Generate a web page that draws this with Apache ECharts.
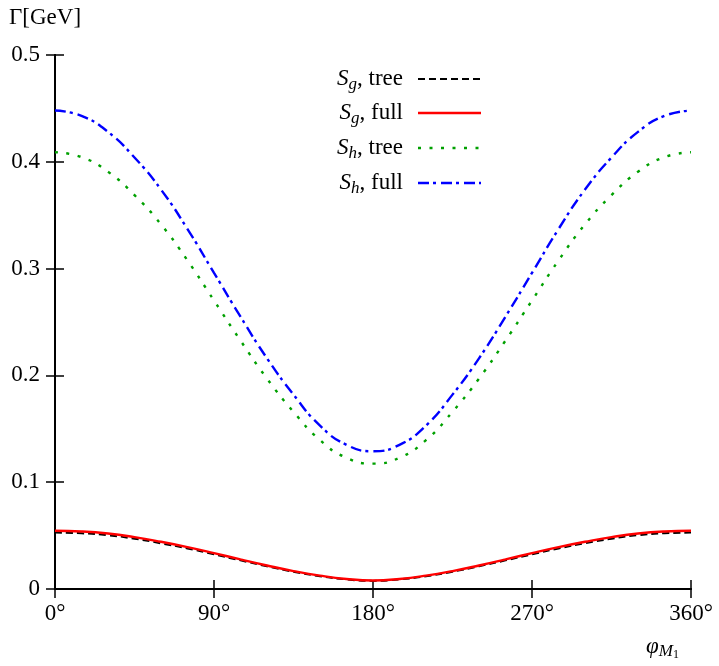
<!DOCTYPE html>
<html><head><meta charset="utf-8">
<script src="https://cdn.jsdelivr.net/npm/echarts@6/dist/echarts.min.js"></script>
<style>html,body{margin:0;padding:0;background:#fff}#c{width:719px;height:666px}</style>
</head><body><div id="c"></div>
<script>
var angles = [0,15,30,45,60,75,90,105,120,135,150,165,180,195,210,225,240,255,270,285,300,315,330,345,360];
var sgTree = [0.0528,0.0522,0.0504,0.0471,0.0428,0.0380,0.0325,0.0268,0.0213,0.0162,0.0120,0.0090,0.0076,0.0090,0.0120,0.0162,0.0213,0.0268,0.0325,0.0380,0.0428,0.0471,0.0504,0.0522,0.0528];
var sgFull = [0.0545,0.0539,0.0520,0.0486,0.0442,0.0392,0.0336,0.0277,0.0220,0.0168,0.0125,0.0094,0.0080,0.0094,0.0125,0.0168,0.0220,0.0277,0.0336,0.0392,0.0442,0.0486,0.0520,0.0539,0.0545];
var shTree = [0.409,0.4044,0.3907,0.3688,0.3414,0.3076,0.2701,0.2326,0.1970,0.1659,0.1394,0.1229,0.1174,0.1229,0.1394,0.1659,0.1970,0.2326,0.2701,0.3076,0.3414,0.3688,0.3907,0.4044,0.409];
var shFull = [0.448,0.443,0.428,0.404,0.374,0.337,0.296,0.255,0.216,0.182,0.153,0.135,0.129,0.135,0.153,0.182,0.216,0.255,0.296,0.337,0.374,0.404,0.428,0.443,0.448];
var xTicks = [0,90,180,270,360];
var yTicks = [0,0.1,0.2,0.3,0.4,0.5];
var legendNames = ['{i|S}{s|g}{n|, tree}','{i|S}{s|g}{n|, full}','{i|S}{s|h}{n|, tree}','{i|S}{s|h}{n|, full}'];
var seriesNames = ['Sg, tree','Sg, full','Sh, tree','Sh, full'];

var F = 'Liberation Serif';
function pairs(v){ return angles.map(function(a,i){ return [a, v[i]]; }); }
var styles = [
  {color:'#000000',width:2,type:[7,4]},
  {color:'#ff0000',width:2.4,type:'solid'},
  {color:'#00a000',width:2.4,type:[3,8.5]},
  {color:'#0000ff',width:2.4,type:[11,4,3,5]}
];
var datas = [sgTree,sgFull,shTree,shFull];
var series = datas.map(function(d,i){
  return {name:seriesNames[i],type:'line',data:pairs(d),smooth:true,symbol:'none',showSymbol:false,
    lineStyle:styles[i],itemStyle:{color:styles[i].color},z:[1,3,2,2][i]};
});
var legendY = [79,113,148,183];
var graphics = [];
legendNames.forEach(function(t,i){
  graphics.push({type:'text',x:403,y:legendY[i],style:{text:t,align:'right',verticalAlign:'middle',
    rich:{
      i:{fontFamily:F,fontSize:23,fontStyle:'italic',fill:'#000'},
      s:{fontFamily:F,fontSize:17,fontStyle:'italic',fill:'#000',padding:[12,0,0,0]},
      n:{fontFamily:F,fontSize:23,fill:'#000'}
    }}});
  var st = styles[i];
  graphics.push({type:'line',shape:{x1:418,y1:legendY[i],x2:481,y2:legendY[i]},
    style:{stroke:st.color,lineWidth:st.width,lineDash:st.type==='solid'?null:st.type}});
});
var axisLine = {show:true,lineStyle:{color:'#000',width:2}};
var tick = {show:true,inside:true,length:9,lineStyle:{color:'#000',width:1.5}};
var opt = {
  animation:false,
  backgroundColor:'#fff',
  grid:{left:55,right:28,top:55,bottom:77},
  title:[
    {text:'Γ[GeV]',left:4,top:1,textStyle:{fontFamily:F,fontSize:23,fontWeight:'normal',color:'#000'}},
    {text:'{p|φ}{m|M}{o|1}',left:641,top:627,textStyle:{fontWeight:'normal',rich:{
      p:{fontFamily:F,fontSize:23,fontStyle:'italic',fontWeight:'normal',color:'#000'},
      m:{fontFamily:F,fontSize:17,fontStyle:'italic',fontWeight:'normal',color:'#000',padding:[10,0,0,0]},
      o:{fontFamily:F,fontSize:12,fontWeight:'normal',color:'#000',padding:[17,0,0,0]}}}}
  ],
  graphic:graphics,
  xAxis:[
    {type:'value',min:0,max:360,interval:90,position:'bottom',axisLine:axisLine,axisTick:tick,
     splitLine:{show:false},
     axisLabel:{margin:13,fontFamily:F,fontSize:23,color:'#000',
       formatter:function(v){ return xTicks.indexOf(v)>=0 ? v+'°' : ''; }}},
    {type:'value',min:0,max:360,interval:90,position:'top',axisLine:axisLine,axisTick:tick,
     splitLine:{show:false},axisLabel:{show:false}}
  ],
  yAxis:[
    {type:'value',min:0,max:0.5,interval:0.1,position:'left',axisLine:axisLine,axisTick:tick,
     splitLine:{show:false},
     axisLabel:{margin:15,fontFamily:F,fontSize:23,color:'#000',
       formatter:function(v){ var t=yTicks.filter(function(y){return Math.abs(y-v)<1e-9;}); return t.length? String(+t[0].toFixed(1)) : ''; }}},
    {type:'value',min:0,max:0.5,interval:0.1,position:'right',axisLine:axisLine,axisTick:tick,
     splitLine:{show:false},axisLabel:{show:false}}
  ],
  series:series
};
var ch = echarts.init(document.getElementById('c'));
ch.setOption(opt);
</script></body></html>
